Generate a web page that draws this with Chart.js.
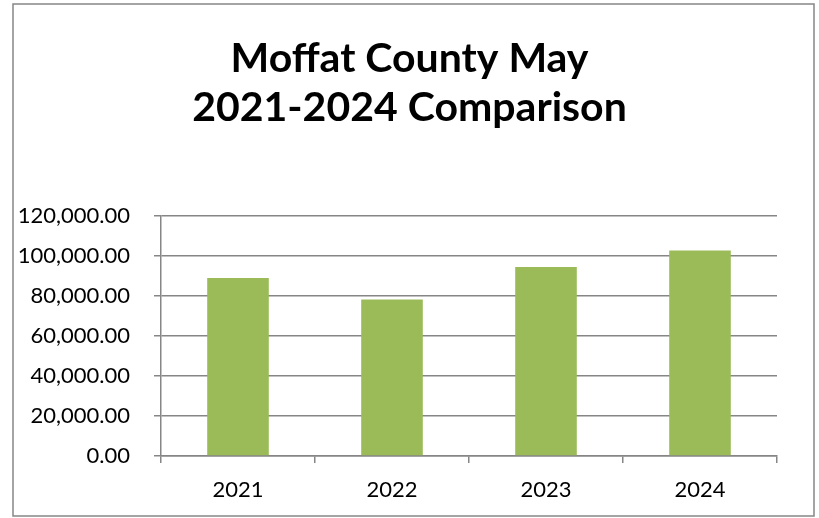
<!DOCTYPE html>
<html>
<head>
<meta charset="utf-8">
<script src="https://cdn.jsdelivr.net/npm/chart.js@4"></script>
<style>
  html, body { margin: 0; padding: 0; background: #fff; }
  #wrap { width: 819px; height: 518px; }
</style>
</head>
<body>
<div id="wrap"><canvas id="chart" width="819" height="518"></canvas></div>
<script>
const titleLines = ['Moffat County May', '2021-2024 Comparison'];
const years = ['2021', '2022', '2023', '2024'];
const mayValues = [89000, 78300, 94500, 102800];
const yMin = 0;
const yMax = 120000;
const yStep = 20000;

const FONT = 'Lato, Calibri, "Liberation Sans", sans-serif';
const GREY = '#868686';

// frame round the whole chart, like the Excel chart area border
const frame = {
    id: 'frame',
    afterDraw(chart) {
        const ctx = chart.ctx;
        ctx.save();
        ctx.strokeStyle = GREY;
        ctx.lineWidth = 1.5;
        ctx.strokeRect(13, 4, 801, 512);
        ctx.restore();
    }
};

const ctx = document.getElementById('chart').getContext('2d');
new Chart(ctx, {
    type: 'bar',
    data: {
        labels: years,
        datasets: [{
            label: 'May',
            data: mayValues,
            backgroundColor: '#9BBB59',
            borderWidth: 0,
            categoryPercentage: 1.0,
            barPercentage: 0.4,
        }],
    },
    options: {
        responsive: false,
        animation: false,
        devicePixelRatio: 1,
        layout: {
            padding: { left: 0, right: 0, top: 0, bottom: 0 },
        },
        scales: {
            x: {
                afterFit: (scale) => { scale.height = 62; },
                grid: {
                    display: true,
                    drawOnChartArea: false,
                    drawTicks: true,
                    tickLength: 7,
                    color: GREY,
                    lineWidth: 1.5,
                    offset: true,
                },
                border: { color: GREY, width: 1.5 },
                ticks: {
                    color: '#000',
                    padding: 14,
                    font: { family: FONT, size: 22 },
                },
            },
            y: {
                min: yMin,
                max: yMax,
                afterFit: (scale) => { scale.width = 161; },
                grid: {
                    color: GREY,
                    lineWidth: 1.5,
                    tickLength: 7,
                },
                border: { color: GREY, width: 1.5 },
                ticks: {
                    stepSize: yStep,
                    color: '#000',
                    padding: 24,
                    font: { family: FONT, size: 22 },
                    callback: (value) => value.toLocaleString('en-US', {
                        minimumFractionDigits: 2,
                        maximumFractionDigits: 2,
                    }),
                },
            },
            // empty axis that only keeps room on the right so the title stays centred on the page
            spacer: {
                position: 'right',
                display: true,
                afterFit: (scale) => { scale.width = 42; },
                grid: { display: false },
                border: { display: false },
                ticks: { display: false },
            },
        },
        plugins: {
            legend: { display: false },
            tooltip: { enabled: false },
            title: {
                display: true,
                text: titleLines,
                color: '#000',
                font: { family: FONT, size: 41, weight: 'bold', lineHeight: 1.2 },
                padding: { top: 34, bottom: 83.6 },
            },
        },
    },
    plugins: [frame],
});
</script>
</body>
</html>
